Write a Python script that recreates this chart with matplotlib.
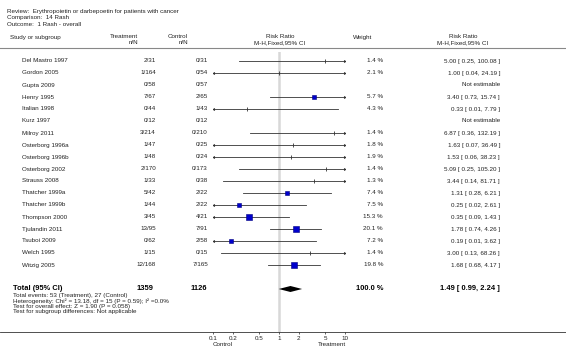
import numpy as np
import matplotlib
matplotlib.use("Agg")
import matplotlib.pyplot as plt

plt.rcParams["font.family"] = ["Liberation Sans", "DejaVu Sans"]

studies = ["Del Mastro 1997", "Gordon 2005", "Gupta 2009", "Henry 1995", "Italian 1998",
           "Kurz 1997", "Milroy 2011", "Osterborg 1996a", "Osterborg 1996b", "Osterborg 2002",
           "Strauss 2008", "Thatcher 1999a", "Thatcher 1999b", "Thompson 2000",
           "Tjulandin 2011", "Tsuboi 2009", "Welch 1995", "Witzig 2005"]
treat_n = [2, 1, 0, 7, 0, 0, 3, 1, 1, 2, 1, 5, 1, 3, 13, 0, 1, 12]
treat_N = [31, 164, 58, 67, 44, 12, 214, 47, 48, 170, 33, 42, 44, 45, 95, 62, 15, 168]
ctrl_n = [0, 0, 0, 2, 1, 0, 0, 0, 0, 0, 0, 2, 2, 4, 7, 2, 0, 7]
ctrl_N = [31, 54, 57, 65, 43, 12, 210, 25, 24, 173, 38, 22, 22, 21, 91, 58, 15, 165]
weights = [1.4, 2.1, np.nan, 5.7, 4.3, np.nan, 1.4, 1.8, 1.9, 1.4, 1.3, 7.4, 7.5, 15.3,
           20.1, 7.2, 1.4, 19.8]
rr = [5.00, 1.00, np.nan, 3.40, 0.33, np.nan, 6.87, 1.63, 1.53, 5.09, 3.44, 1.31, 0.25,
      0.35, 1.78, 0.19, 3.00, 1.68]
rr_lo = [0.25, 0.04, np.nan, 0.73, 0.01, np.nan, 0.36, 0.07, 0.06, 0.25, 0.14, 0.28, 0.02,
         0.09, 0.74, 0.01, 0.13, 0.68]
rr_hi = [100.08, 24.19, np.nan, 15.74, 7.79, np.nan, 132.19, 36.49, 38.23, 105.20, 81.71,
         6.21, 2.61, 1.43, 4.26, 3.62, 68.26, 4.17]

total_treat = 1359
total_ctrl = 1126
total_rr = 1.49
total_lo = 0.99
total_hi = 2.24
ticks = [0.1, 0.2, 0.5, 1, 2, 5, 10]
tick_labels = ["0.1", "0.2", "0.5", "1", "2", "5", "10"]

W, H = 566, 349
fig = plt.figure(figsize=(W / 100, H / 100), dpi=100)
bg = fig.add_axes([0, 0, 1, 1])
bg.set_xlim(0, W)
bg.set_ylim(H, 0)
bg.axis("off")

fs = 4.5
tc = "#222222"

# header block
bg.text(7, 12, "Review:  Erythropoietin or darbepoetin for patients with cancer", fontsize=fs, va="center", color=tc)
bg.text(7, 18, "Comparison:  14 Rash", fontsize=fs, va="center", color=tc)
bg.text(7, 24, "Outcome:  1 Rash - overall", fontsize=fs, va="center", color=tc)

bg.text(10, 38, "Study or subgroup", fontsize=fs, va="center", color=tc)
bg.text(138, 37, "Treatment", fontsize=fs, va="center", ha="right", color=tc)
bg.text(138, 42.5, "n/N", fontsize=fs, va="center", ha="right", color=tc)
bg.text(188, 37, "Control", fontsize=fs, va="center", ha="right", color=tc)
bg.text(188, 42.5, "n/N", fontsize=fs, va="center", ha="right", color=tc)
bg.text(280, 37, "Risk Ratio", fontsize=fs, va="center", ha="center", color=tc)
bg.text(280, 42.5, "M-H,Fixed,95% CI", fontsize=fs, va="center", ha="center", color=tc)
bg.text(353, 37, "Weight", fontsize=fs, va="center", color=tc)
bg.text(463, 37, "Risk Ratio", fontsize=fs, va="center", ha="center", color=tc)
bg.text(463, 42.5, "M-H,Fixed,95% CI", fontsize=fs, va="center", ha="center", color=tc)
bg.plot([0, W], [48, 48], color="#888888", lw=0.8)

# forest axes, log scale from 0.1 to 10
fx0, fx1, fy0, fy1 = 213, 345, 52, 332
ax = fig.add_axes([fx0 / W, (H - fy1) / H, (fx1 - fx0) / W, (fy1 - fy0) / H])
ax.set_xscale("log")
ax.set_xlim(0.1, 10)
ax.set_ylim(fy1, fy0)
ax.patch.set_alpha(0)
for s in ax.spines.values():
    s.set_visible(False)
ax.set_yticks([])
ax.set_xticks(ticks)
ax.set_xticklabels(tick_labels)
ax.xaxis.set_minor_locator(matplotlib.ticker.NullLocator())
ax.tick_params(axis="x", length=1.5, width=0.5, pad=1.5, labelsize=fs, colors=tc)
ax.axvline(1, color="#d8d8d8", lw=1.8, zorder=0)

row_y = [61 + 12 * i for i in range(len(studies))]
for i, name in enumerate(studies):
    y = row_y[i]
    bg.text(22, y, name, fontsize=fs, va="center", color=tc)
    bg.text(156, y, f"{treat_n[i]}/{treat_N[i]}", fontsize=fs, va="center", ha="right", color=tc)
    bg.text(208, y, f"{ctrl_n[i]}/{ctrl_N[i]}", fontsize=fs, va="center", ha="right", color=tc)
    if np.isnan(rr[i]):
        bg.text(500, y, "Not estimable", fontsize=fs, va="center", ha="right", color=tc)
        continue
    bg.text(383, y, f"{weights[i]:.1f} %", fontsize=fs, va="center", ha="right", color=tc)
    bg.text(500, y, f"{rr[i]:.2f} [ {rr_lo[i]:.2f}, {rr_hi[i]:.2f} ]", fontsize=fs,
            va="center", ha="right", color=tc)
    lo = max(rr_lo[i], 0.1)
    hi = min(rr_hi[i], 10)
    ax.plot([lo, hi], [y, y], color="#333333", lw=0.6, zorder=2)
    if rr_lo[i] < 0.1:
        ax.plot(lo, y, marker="<", ms=2.2, color="#333333", mew=0, zorder=3)
    if rr_hi[i] > 10:
        ax.plot(hi, y, marker=">", ms=2.2, color="#333333", mew=0, zorder=3)
    if weights[i] >= 5:
        ax.plot(rr[i], y, marker="s", ms=np.sqrt(weights[i]), mfc="#0000cc",
                mec="#000080", mew=0.4, zorder=4)
    else:
        ax.plot(rr[i], y, marker="|", ms=2.5, color="#333333", mew=0.6, zorder=4)

# total row
ty = 289
bg.text(13, ty, "Total (95% CI)", fontsize=5.4, fontweight="bold", va="center", color="black")
bg.text(153, ty, str(total_treat), fontsize=5.4, fontweight="bold", va="center", ha="right")
bg.text(207, ty, str(total_ctrl), fontsize=5.4, fontweight="bold", va="center", ha="right")
bg.text(383, ty, "100.0 %", fontsize=5.4, fontweight="bold", va="center", ha="right")
bg.text(500, ty, f"{total_rr:.2f} [ {total_lo:.2f}, {total_hi:.2f} ]", fontsize=5.4,
        fontweight="bold", va="center", ha="right")
ax.fill([total_lo, total_rr, total_hi, total_rr], [ty, ty - 3, ty, ty + 3],
        color="black", zorder=4, lw=0)

foot = ["Total events: 53 (Treatment), 27 (Control)",
        "Heterogeneity: Chi\u00b2 = 13.18, df = 15 (P = 0.59); I\u00b2 =0.0%",
        "Test for overall effect: Z = 1.90 (P = 0.058)",
        "Test for subgroup differences: Not applicable"]
for k, line in enumerate(foot):
    bg.text(13, 295.5 + 5.5 * k, line, fontsize=fs, va="center", color=tc)

bg.plot([0, W], [fy1, fy1], color="#333333", lw=0.6)
bg.text(213, 344, "Control", fontsize=fs, va="center", ha="left", color=tc)
bg.text(346, 344, "Treatment", fontsize=fs, va="center", ha="right", color=tc)

fig.savefig("out.png", dpi=100)
